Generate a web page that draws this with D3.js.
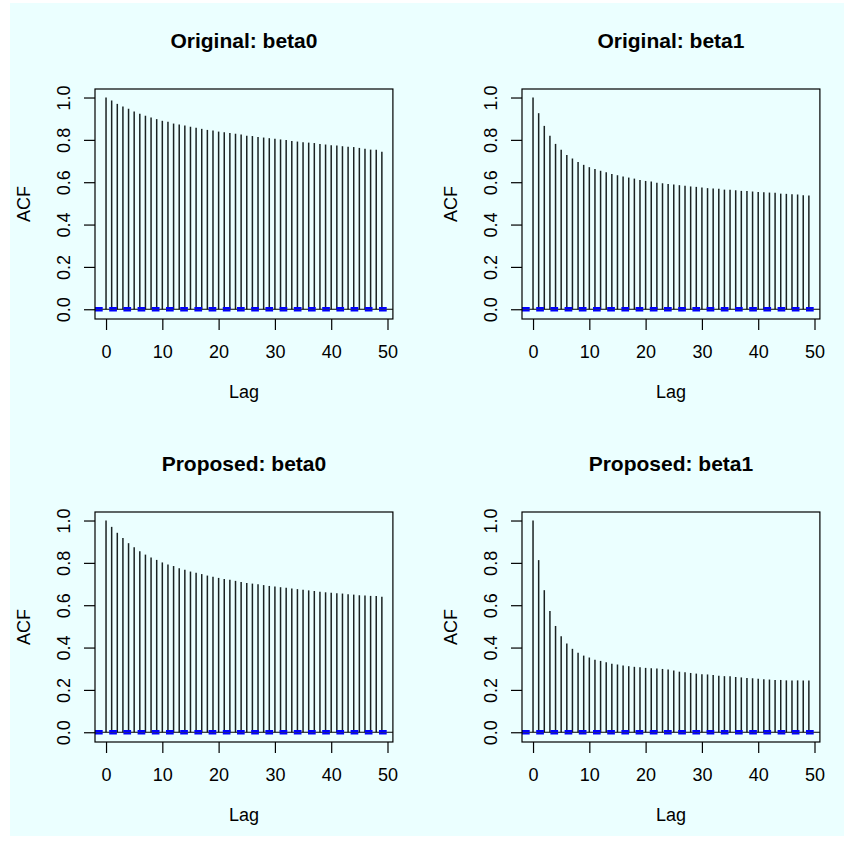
<!DOCTYPE html>
<html>
<head>
<meta charset="utf-8">
<script src="https://cdn.jsdelivr.net/npm/d3@7"></script>
<style>
  body { margin: 0; background: #fff; }
  svg { display: block; font-family: "Liberation Sans", Arial, Helvetica, sans-serif; }
</style>
</head>
<body>
<svg id="chart" width="854" height="846"></svg>
<script>
// ACF values, lags 0..49
const origBeta0 = [1.000, 0.986, 0.970, 0.958, 0.947, 0.934, 0.923, 0.914, 0.906, 0.898,
                   0.890, 0.885, 0.877, 0.873, 0.868, 0.862, 0.857, 0.852, 0.847, 0.844,
                   0.839, 0.836, 0.832, 0.829, 0.825, 0.820, 0.818, 0.814, 0.811, 0.808,
                   0.805, 0.802, 0.799, 0.795, 0.792, 0.789, 0.787, 0.785, 0.781, 0.778,
                   0.775, 0.773, 0.770, 0.767, 0.766, 0.762, 0.758, 0.754, 0.753, 0.744];
const origBeta1 = [1.000, 0.926, 0.866, 0.819, 0.781, 0.753, 0.729, 0.712, 0.695, 0.682,
                   0.671, 0.662, 0.654, 0.647, 0.639, 0.633, 0.627, 0.622, 0.617, 0.611,
                   0.606, 0.603, 0.598, 0.595, 0.592, 0.589, 0.586, 0.583, 0.580, 0.578,
                   0.575, 0.572, 0.570, 0.569, 0.565, 0.564, 0.562, 0.559, 0.558, 0.556,
                   0.554, 0.553, 0.551, 0.550, 0.546, 0.545, 0.543, 0.542, 0.539, 0.537];
const propBeta0 = [1.000, 0.970, 0.942, 0.917, 0.893, 0.874, 0.855, 0.839, 0.825, 0.814,
                   0.802, 0.792, 0.785, 0.775, 0.767, 0.759, 0.753, 0.747, 0.740, 0.735,
                   0.729, 0.724, 0.720, 0.715, 0.710, 0.705, 0.702, 0.699, 0.695, 0.691,
                   0.688, 0.685, 0.682, 0.679, 0.676, 0.673, 0.670, 0.667, 0.664, 0.661,
                   0.659, 0.656, 0.655, 0.652, 0.650, 0.647, 0.646, 0.644, 0.643, 0.640];
const propBeta1 = [1.000, 0.813, 0.671, 0.573, 0.502, 0.454, 0.419, 0.394, 0.375, 0.362,
                   0.353, 0.343, 0.337, 0.331, 0.324, 0.320, 0.315, 0.312, 0.309, 0.307,
                   0.304, 0.302, 0.301, 0.299, 0.296, 0.292, 0.286, 0.283, 0.280, 0.277,
                   0.274, 0.273, 0.270, 0.267, 0.265, 0.264, 0.261, 0.259, 0.256, 0.255,
                   0.253, 0.250, 0.249, 0.247, 0.247, 0.245, 0.245, 0.245, 0.245, 0.244];

const titles = ["Original: beta0", "Original: beta1", "Proposed: beta0", "Proposed: beta1"];
const series = [origBeta0, origBeta1, propBeta0, propBeta1];
const xTicks = [0, 10, 20, 30, 40, 50];
const yTicks = [0, 0.2, 0.4, 0.6, 0.8, 1.0];
const ciBound = 0.0058;   // approx 1.96/sqrt(n)

const svg = d3.select("#chart");

svg.append("rect")
    .attr("x", 10).attr("y", 3)
    .attr("width", 834).attr("height", 833)
    .attr("fill", "#ebffff");

const panelW = 427, panelH = 423;
const box = {left: 95, right: 392.9, top: 89, bottom: 319};

series.forEach(function(vals, i){
    let col = i % 2, row = Math.floor(i / 2);
    let g = svg.append("g")
        .attr("transform", "translate(" + (col * panelW) + "," + (row * panelH) + ")");

    let lags = vals.map(function(v, k){ return k; });
    let maxLag = lags.length - 1;
    let xPad = 0.04 * maxLag;
    let x = d3.scaleLinear()
        .domain([-xPad, maxLag + xPad])
        .range([box.left, box.right]);

    let lo = Math.min(d3.min(vals), -ciBound), hi = Math.max(d3.max(vals), ciBound);
    let yPad = 0.04 * (hi - lo);
    let y = d3.scaleLinear()
        .domain([lo - yPad, hi + yPad])
        .range([box.bottom, box.top]);

    let clipId = "clip" + i;
    g.append("clipPath").attr("id", clipId)
        .append("rect")
        .attr("x", box.left).attr("y", box.top)
        .attr("width", box.right - box.left).attr("height", box.bottom - box.top);

    let plot = g.append("g").attr("clip-path", "url(#" + clipId + ")");

    // spikes
    plot.selectAll("line.spike")
        .data(vals)
        .enter().append("line")
        .attr("class", "spike")
        .attr("x1", function(d, k){ return x(k); })
        .attr("x2", function(d, k){ return x(k); })
        .attr("y1", y(0))
        .attr("y2", function(d){ return y(d); })
        .attr("stroke", "#1a2222")
        .attr("stroke-width", 1.5);

    // zero line
    plot.append("line")
        .attr("x1", box.left).attr("x2", box.right)
        .attr("y1", y(0)).attr("y2", y(0))
        .attr("stroke", "#000").attr("stroke-width", 1.2);

    // confidence bounds
    [ciBound, -ciBound].forEach(function(c){
        plot.append("line")
            .attr("x1", box.left).attr("x2", box.right)
            .attr("y1", y(c)).attr("y2", y(c))
            .attr("stroke", "#0000ff").attr("stroke-width", 2)
            .attr("stroke-dasharray", "7.7,6.5");
    });

    // axes
    let xAxis = d3.axisBottom(x)
        .tickValues(xTicks)
        .tickSize(11)
        .tickSizeOuter(0)
        .tickPadding(15)
        .tickFormat(d3.format("d"));
    let gx = g.append("g")
        .attr("transform", "translate(0," + box.bottom + ")")
        .call(xAxis);
    gx.select(".domain").remove();

    let yAxis = d3.axisLeft(y)
        .tickValues(yTicks)
        .tickSize(11)
        .tickSizeOuter(0)
        .tickFormat(d3.format(".1f"));
    let gy = g.append("g")
        .attr("transform", "translate(" + box.left + ",0)")
        .call(yAxis);
    gy.select(".domain").remove();
    gy.selectAll("text")
        .attr("x", 0).attr("y", -25).attr("dy", 0)
        .attr("transform", "rotate(-90)")
        .attr("text-anchor", "middle");

    [gx, gy].forEach(function(a){
        a.selectAll("line").attr("stroke", "#000").attr("stroke-width", 1.2);
        a.selectAll("text").attr("fill", "#000").style("font-size", "18px")
            .style("font-family", "'Liberation Sans', Arial, sans-serif");
    });

    // box
    g.append("rect")
        .attr("x", box.left).attr("y", box.top)
        .attr("width", box.right - box.left).attr("height", box.bottom - box.top)
        .attr("fill", "none").attr("stroke", "#000").attr("stroke-width", 1.2);

    let cx = (box.left + box.right) / 2;
    g.append("text")
        .attr("x", cx).attr("y", 48.3)
        .attr("text-anchor", "middle")
        .style("font-size", "21px").style("font-weight", "bold")
        .text(titles[i]);

    g.append("text")
        .attr("x", cx).attr("y", 398)
        .attr("text-anchor", "middle")
        .style("font-size", "18px")
        .text("Lag");

    g.append("text")
        .attr("transform", "translate(30," + ((box.top + box.bottom) / 2) + ") rotate(-90)")
        .attr("text-anchor", "middle")
        .style("font-size", "18px")
        .text("ACF");
});
</script>
</body>
</html>
